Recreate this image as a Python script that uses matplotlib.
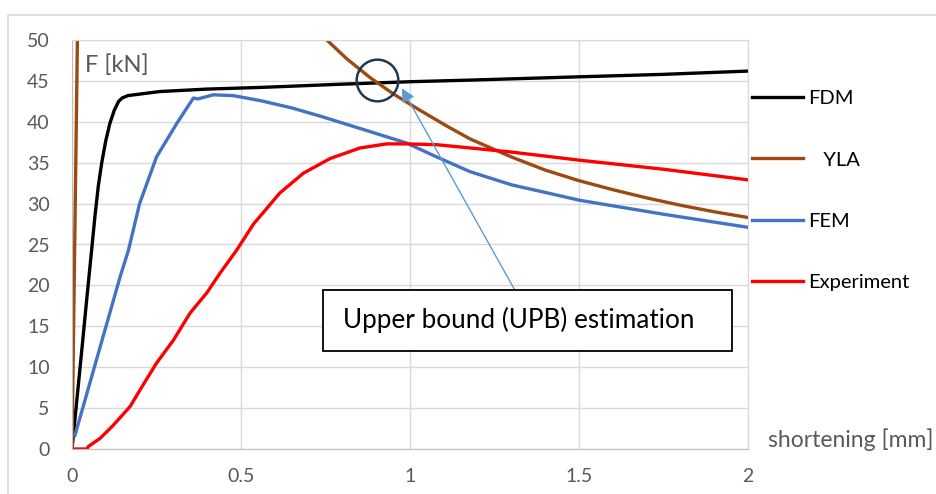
import matplotlib
matplotlib.use("Agg")
import matplotlib.pyplot as plt
from matplotlib.patches import Rectangle
import numpy as np

plt.rcParams['font.family'] = ['Lato', 'DejaVu Sans']

# data (shortening [mm], force [kN])
fdm_x = [0, 0.029, 0.045, 0.058, 0.068, 0.078, 0.088, 0.1, 0.112, 0.125, 0.138, 0.148, 0.165, 0.26, 0.4, 0.556, 0.8, 1.0, 1.18, 1.5, 1.75, 2.0]
fdm_y = [0, 12.1, 18.9, 24.3, 28.5, 32.2, 35.0, 37.7, 39.8, 41.4, 42.5, 42.9, 43.2, 43.7, 44.0, 44.2, 44.6, 44.9, 45.1, 45.5, 45.8, 46.2]

# YLA: elastic branch, then plastic (upper bound) branch
yla_x = [0, 0.016, 0.02, np.nan, 0.70, 0.754, 0.813, 0.882, 0.951, 1.03, 1.108, 1.178, 1.3, 1.4, 1.5, 1.6, 1.7, 1.8, 1.9, 2.0]
yla_y = [0, 50, 62, np.nan, 52.3, 50.0, 47.7, 45.4, 43.4, 41.4, 39.5, 37.9, 35.7, 34.1, 32.8, 31.7, 30.7, 29.8, 29.0, 28.3]

fem_x = [0.009, 0.142, 0.167, 0.2, 0.25, 0.31, 0.359, 0.373, 0.418, 0.477, 0.556, 0.65, 0.734, 0.882, 0.99, 1.079, 1.178, 1.3, 1.503, 1.75, 2.0]
fem_y = [1.7, 21.0, 24.3, 30.0, 35.7, 39.8, 42.9, 42.8, 43.3, 43.2, 42.6, 41.7, 40.7, 38.8, 37.4, 35.7, 33.9, 32.3, 30.4, 28.7, 27.1]

exp_x = [0, 0.045, 0.048, 0.083, 0.122, 0.172, 0.201, 0.25, 0.3, 0.349, 0.399, 0.438, 0.487, 0.537, 0.615, 0.684, 0.763, 0.852, 0.931, 0.99, 1.079, 1.178, 1.3, 1.503, 1.75, 2.0]
exp_y = [0, 0, 0.3, 1.3, 2.9, 5.2, 7.2, 10.5, 13.3, 16.6, 19.1, 21.5, 24.3, 27.5, 31.3, 33.7, 35.5, 36.8, 37.3, 37.3, 37.2, 36.8, 36.3, 35.3, 34.2, 32.9]

x_ticks = [0, 0.5, 1, 1.5, 2]
y_ticks = list(range(0, 51, 5))

fig = plt.figure(figsize=(9.37, 4.94), dpi=100)
ax = fig.add_axes([72/937, 1 - 449/494, 676/937, 409/494])

# outer chart frame
fig.patches.append(Rectangle((8/937, -0.1), 1.2, 1 - 15/494 + 0.1, transform=fig.transFigure,
                             fill=False, edgecolor='#d9d9d9', linewidth=1.2))

l1, = ax.plot(fdm_x, fdm_y, color='black', lw=2.4)
l2, = ax.plot(yla_x, yla_y, color='#9c4a12', lw=2.4)
l3, = ax.plot(fem_x, fem_y, color='#4472c4', lw=2.4)
l4, = ax.plot(exp_x, exp_y, color='#ff0000', lw=2.4)

ax.set_xlim(0, 2)
ax.set_ylim(0, 50)
ax.set_xticks(x_ticks)
ax.set_xticklabels(['0', '0.5', '1', '1.5', '2'])
ax.set_yticks(y_ticks)
ax.grid(True, color='#d9d9d9', lw=1)
ax.set_axisbelow(True)
for s in ['top', 'right']:
    ax.spines[s].set_color('#d9d9d9')
for s in ['left', 'bottom']:
    ax.spines[s].set_color('#bfbfbf')
ax.tick_params(length=0, labelsize=14, colors='#595959')
ax.tick_params(axis='x', pad=14)
ax.tick_params(axis='y', pad=16)

ax.text(0.038, 46.9, 'F [kN]', fontsize=17, color='#595959', va='center')
fig.text(768/937, 1 - 440/494, 'shortening [mm]', fontsize=16.5, color='#595959', va='center')

# circle marking the upper bound intersection
ax.plot([0.901], [45.1], marker='o', markersize=30, markerfacecolor='none',
        markeredgecolor='#1f3a4f', markeredgewidth=1.8, clip_on=False)

ax.annotate('', xy=(0.976, 44.1), xytext=(1.31, 19.44),
            arrowprops=dict(arrowstyle='-|>', color='#5b9bd5', lw=1, mutation_scale=20,
                            shrinkA=0, shrinkB=0))
ax.add_patch(Rectangle((0.743, 11.98), 1.21, 7.46, facecolor='white', edgecolor='black', lw=1.3, zorder=5))
ax.text(0.802, 15.8, 'Upper bound (UPB) estimation', fontsize=18.8, color='black', va='center', zorder=6)

fig.legend([l1, l2, l3, l4], ['FDM', '   YLA', 'FEM', 'Experiment'],
           loc='upper left', bbox_to_anchor=(752/937, 1 - 90/494), frameon=False,
           borderpad=0, borderaxespad=0,
           fontsize=14.5, handlelength=2.54, handletextpad=0.25, labelspacing=2.2)

fig.savefig('out.png', dpi=100)
